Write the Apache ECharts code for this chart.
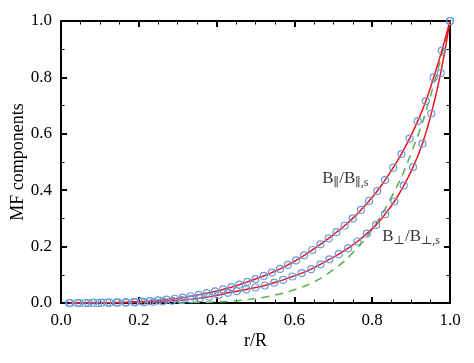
<!DOCTYPE html>
<html>
<head>
<meta charset="utf-8">
<script src="https://cdn.jsdelivr.net/npm/echarts@6/dist/echarts.min.js"></script>
<style>
  html, body { margin: 0; padding: 0; background: #fff; }
  #chart { width: 474px; height: 363px; }
</style>
</head>
<body>
<div id="chart"></div>
<script>
// upper curve B_par / B_par,s (markers every 1/48 in r/R)
var rPar = [0.021, 0.042, 0.063, 0.083, 0.104, 0.125, 0.146, 0.167, 0.188, 0.208,
  0.229, 0.25, 0.271, 0.292, 0.313, 0.333, 0.354, 0.375, 0.396, 0.417,
  0.438, 0.458, 0.479, 0.5, 0.521, 0.542, 0.563, 0.583, 0.604, 0.625,
  0.646, 0.667, 0.688, 0.708, 0.729, 0.75, 0.771, 0.792, 0.813, 0.833,
  0.854, 0.875, 0.896, 0.917, 0.938, 0.958, 0.979, 1.0];
var bPar = [0.000, 0.000, 0.000, 0.001, 0.001, 0.001, 0.002, 0.003, 0.004, 0.005,
  0.007, 0.009, 0.012, 0.015, 0.019, 0.024, 0.029, 0.035, 0.041, 0.048,
  0.056, 0.065, 0.075, 0.085, 0.096, 0.108, 0.121, 0.135, 0.151, 0.169,
  0.188, 0.208, 0.229, 0.251, 0.274, 0.300, 0.330, 0.362, 0.397, 0.436,
  0.480, 0.528, 0.583, 0.645, 0.716, 0.800, 0.895, 1.0];

// lower curve B_perp / B_perp,s (markers every 1/42 in r/R)
var rPerp = [0.024, 0.048, 0.071, 0.095, 0.119, 0.143, 0.167, 0.190, 0.214, 0.238,
  0.262, 0.286, 0.310, 0.333, 0.357, 0.381, 0.405, 0.429, 0.452, 0.476,
  0.5, 0.524, 0.548, 0.571, 0.595, 0.619, 0.643, 0.667, 0.690, 0.714,
  0.738, 0.762, 0.786, 0.810, 0.833, 0.857, 0.881, 0.905, 0.929, 0.952,
  0.976, 1.0];
var bPerp = [0.000, 0.000, 0.000, 0.000, 0.001, 0.001, 0.001, 0.002, 0.003, 0.004,
  0.006, 0.008, 0.010, 0.013, 0.017, 0.022, 0.028, 0.036, 0.042, 0.048,
  0.055, 0.062, 0.072, 0.082, 0.094, 0.106, 0.120, 0.137, 0.155, 0.173,
  0.194, 0.218, 0.246, 0.277, 0.315, 0.360, 0.416, 0.482, 0.565, 0.672,
  0.815, 1.0];

// green dashed reference curve
var rRef = [0.30, 0.35, 0.40, 0.45, 0.50, 0.55, 0.60, 0.65, 0.70, 0.75, 0.80, 0.85, 0.90, 0.95, 1.0];
var bRef = [0.001, 0.002, 0.004, 0.008, 0.016, 0.028, 0.047, 0.075, 0.118, 0.178, 0.262, 0.377, 0.531, 0.735, 1.0];

var tickLabels = ['0.0', '0.2', '0.4', '0.6', '0.8', '1.0'];

function pairs(xs, ys) {
  var out = [];
  for (var i = 0; i < xs.length; i++) out.push([xs[i], ys[i]]);
  return out;
}

var serif = '"Liberation Serif", "DejaVu Serif", serif';
var red = '#f0141e';
var blue = '#6c9bd6';

function axisCommon(show) {
  return {
    type: 'value', min: 0, max: 1, interval: 0.2,
    axisLine: { show: true, onZero: false, lineStyle: { color: '#000', width: 2 } },
    axisTick: { show: true, inside: true, length: 6, lineStyle: { color: '#000', width: 2 } },
    minorTick: { show: true, length: 3.5, lineStyle: { color: '#000', width: 1 } },
    splitLine: { show: false },
    axisLabel: {
      show: show, color: '#000', fontFamily: serif, fontSize: 17, margin: 9,
      formatter: function (v) { return tickLabels[Math.round(v / 0.2)]; }
    }
  };
}

var chart = echarts.init(document.getElementById('chart'));

var xBottom = axisCommon(true);
xBottom.position = 'bottom';
xBottom.minorTick.splitNumber = 4;
xBottom.name = 'r/R';
xBottom.nameLocation = 'middle';
xBottom.nameGap = 29;
xBottom.nameMoveOverlap = false;
xBottom.nameTextStyle = { color: '#000', fontFamily: serif, fontSize: 18 };

var xTop = axisCommon(false);
xTop.position = 'top';
xTop.minorTick.splitNumber = 4;

var yLeft = axisCommon(true);
yLeft.position = 'left';
yLeft.minorTick.splitNumber = 2;
yLeft.name = 'MF components';
yLeft.nameLocation = 'middle';
yLeft.nameGap = 34;
yLeft.nameMoveOverlap = false;
yLeft.nameTextStyle = { color: '#000', fontFamily: serif, fontSize: 18 };

var yRight = axisCommon(false);
yRight.position = 'right';
yRight.minorTick.splitNumber = 2;

var labelRich = {
  b: { fontFamily: serif, fontSize: 17, color: '#000' },
  s: { fontFamily: serif, fontSize: 12, color: '#000', padding: [8, 0, 0, 0] }
};

chart.setOption({
  animation: false,
  backgroundColor: '#fff',
  grid: {
    left: 61, right: 24, top: 21, bottom: 60,
    containLabel: false, outerBoundsMode: 'none',
    show: true, borderColor: '#000', borderWidth: 2, backgroundColor: 'transparent'
  },
  xAxis: [xBottom, xTop],
  yAxis: [yLeft, yRight],
  series: [
    {
      type: 'line',
      data: pairs(rRef, bRef),
      smooth: true,
      symbol: 'none',
      lineStyle: { color: '#55b04e', width: 1.5, type: [8, 6] },
      z: 2
    },
    {
      type: 'line',
      data: pairs(rPerp, bPerp),
      smooth: true,
      symbol: 'circle',
      symbolSize: 7,
      showAllSymbol: true,
      lineStyle: { color: red, width: 1.5 },
      itemStyle: { color: 'rgba(0,0,0,0)', borderColor: blue, borderWidth: 1.2 },
      z: 3
    },
    {
      type: 'line',
      data: pairs(rPar, bPar),
      smooth: true,
      symbol: 'circle',
      symbolSize: 7,
      showAllSymbol: true,
      lineStyle: { color: red, width: 1.5 },
      itemStyle: { color: 'rgba(0,0,0,0)', borderColor: blue, borderWidth: 1.2 },
      z: 3
    },
    {
      type: 'scatter',
      symbolSize: 0,
      silent: true,
      data: [
        { value: [0.731, 0.44], name: 'par' },
        { value: [0.9, 0.235], name: 'perp' }
      ],
      label: {
        show: true, position: 'inside',
        formatter: function (p) {
          return p.name === 'par'
            ? '{b|B}{s|\u2225}{b|/B}{s|\u2225,s}'
            : '{b|B}{s|\u22a5}{b|/B}{s|\u22a5,s}';
        },
        rich: labelRich
      },
      z: 5
    }
  ]
});
</script>
</body>
</html>
